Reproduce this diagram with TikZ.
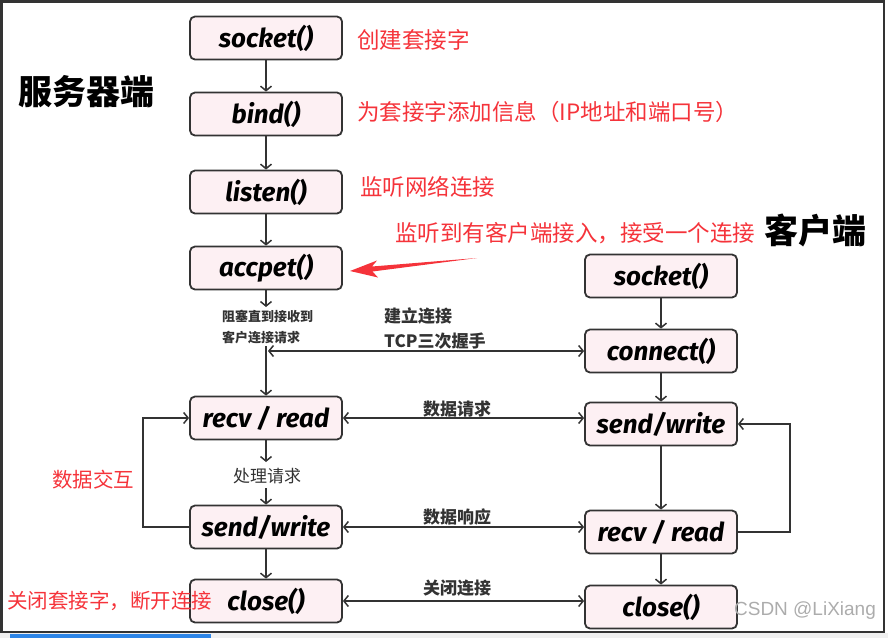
\documentclass[tikz,border=0pt]{standalone}
\usepackage{fontspec}
\usepackage{xcolor}
\usetikzlibrary{arrows.meta,calc}
\newfontfamily\cjk{Noto Sans CJK SC}
\newfontfamily\hand{Fira Sans}
\newfontfamily\wm{Liberation Sans}
\definecolor{boxfill}{HTML}{FDF0F3}
\definecolor{linegray}{HTML}{333333}
\definecolor{notered}{HTML}{F5333A}
\definecolor{barblue}{HTML}{2E86E8}

\begin{document}
\begin{tikzpicture}[x=1pt,y=-1pt,
    func/.style={draw=linegray, line width=1.8pt, fill=boxfill, rounded corners=5pt,
        minimum width=152pt, minimum height=43pt, inner sep=0pt,
        font=\hand\bfseries\itshape\fontsize{26}{26}\selectfont},
    arr/.style={draw=linegray, line width=1.5pt, -{Straight Barb[length=4.5pt,width=11pt]}},
    darr/.style={arr, {Straight Barb[length=4.5pt,width=11pt]}-{Straight Barb[length=4.5pt,width=11pt]}},
    redlbl/.style={text=notered, font=\cjk\fontsize{22.5}{22.5}\selectfont, inner sep=0pt, anchor=west},
    side/.style={font=\cjk\bfseries\fontsize{34}{34}\selectfont, inner sep=0pt},
    msg/.style={text=linegray, font=\cjk\bfseries\fontsize{17}{17}\selectfont, inner sep=0pt}]
            \useasboundingbox (0,0) rectangle (888,638);
            \fill[gray!12] (0,633) rectangle (888,638);
            \fill[barblue] (10,634) rectangle (211,638);
            \draw[linegray, line width=2.5pt] (1.5,1.5) rectangle (884,632);

            % server side
            \node[func] (ssock) at (266,38) {socket()};
            \node[func] (sbind) at (266,114) {bind()};
            \node[func] (slisten) at (266,192) {listen()};
            \node[func] (saccept) at (266,268) {accpet()};
            \node[func] (srecv) at (266,418) {recv / read};
            \node[func] (ssend) at (266,527) {send/write};
            \node[func] (sclose) at (266,601) {close()};

            % client side
            \node[func] (csock) at (661,276) {socket()};
            \node[func] (cconn) at (661,351) {connect()};
            \node[func] (csend) at (661,424) {send/write};
            \node[func] (crecv) at (661,532) {recv / read};
            \node[func] (cclose) at (661,607) {close()};

            \node[side] (server) at (86,92) {服务器端};
            \node[side] (client) at (815,230) {客户端};

            \node[redlbl] (tsock) at (357,40) {创建套接字};
            \node[redlbl] (tbind) at (357,112) {为套接字添加信息（IP地址和端口号）};
            \node[redlbl] (tlisten) at (360,187) {监听网络连接};
            \node[redlbl] (taccept) at (395,233) {监听到有客户端接入，接受一个连接};
            \node[redlbl, anchor=center, font=\cjk\fontsize{20.5}{20.5}\selectfont] (tloop) at (93,480) {数据交互};
            \node[redlbl, font=\cjk\fontsize{20.5}{20.5}\selectfont] (tclose) at (7,601) {关闭套接字，断开连接};

            \node[msg, anchor=west, align=left, font=\cjk\bfseries\fontsize{13}{21}\selectfont] (tblock) at (222,327) {阻塞直到接收到\\客户连接请求};
            \node[msg, anchor=west, align=left, font=\cjk\bfseries\fontsize{17}{25}\selectfont] (thand) at (384,328) {建立连接\\TCP三次握手};
            \node[msg] (treq) at (457,409) {数据请求};
            \node[msg, font=\cjk\fontsize{17}{17}\selectfont] (tproc) at (267,476) {处理请求};
            \node[msg] (tresp) at (457,517) {数据响应};
            \node[msg] (tfin) at (457,588) {关闭连接};

            \node[text=gray!65, font=\wm\fontsize{19}{19}\selectfont, inner sep=0pt] (mark) at (805,611) {CSDN @LiXiang};

            % server flow
            \draw[arr] (ssock) -- (sbind);
            \draw[arr] (sbind) -- (slisten);
            \draw[arr] (slisten) -- (saccept);
            \coordinate (waitend) at (266,307);
            \coordinate (waitgo) at (266,346);
            \coordinate (hsk) at (268,351);
            \draw[arr] (saccept) -- (waitend);
            \draw[arr] (waitgo) -- (srecv);
            \coordinate (procend) at (266,462);
            \coordinate (procgo) at (266,488);
            \draw[arr] (srecv) -- (procend);
            \draw[arr] (procgo) -- (ssend);
            \draw[arr] (ssend) -- (sclose);
            \draw[arr] (ssend.west) -- ++(-46,0) |- (srecv.west);

            % client flow
            \draw[arr] (csock) -- (cconn);
            \draw[arr] (cconn) -- (csend);
            \draw[arr] (csend) -- (crecv);
            \draw[arr] (crecv) -- (cclose);
            \draw[arr] (crecv.east) -- ++(52,0) |- (csend.east);

            % between the two
            \draw[darr] (hsk) -- (cconn);
            \draw[darr] (srecv.east) -- (srecv.east -| csend.west);
            \draw[darr] (ssend.east) -- (ssend.east -| crecv.west);
            \draw[darr] (sclose.east) -- (sclose.east -| cclose.west);

            % red pointer to accept
            \fill[notered] (477,258) -- (372,266.5) -- (377,260.5) -- (350,271)
                -- (378,277.5) -- (372.5,271.5) -- cycle;
        \end{tikzpicture}
\end{document}
